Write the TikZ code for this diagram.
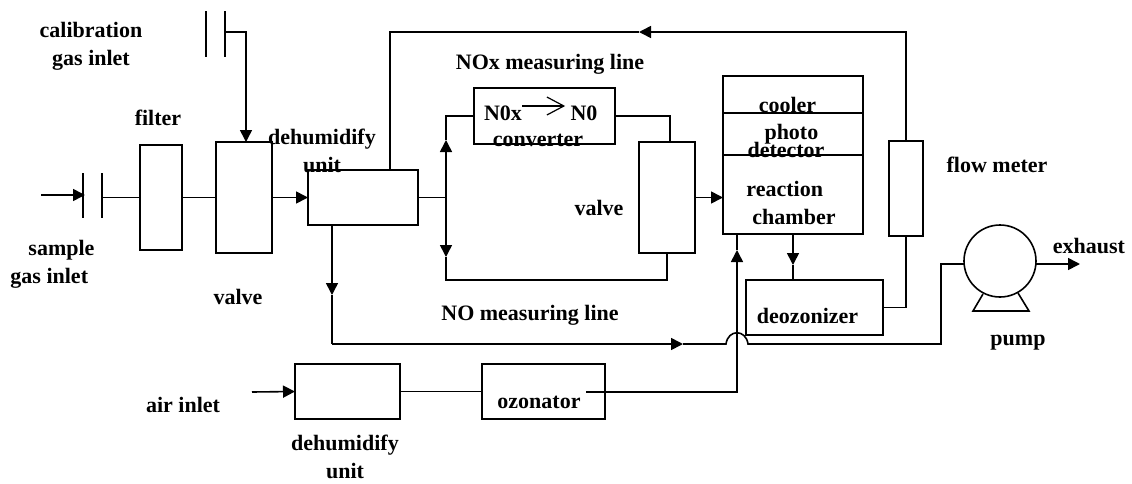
\documentclass[tikz,border=0pt]{standalone}
\usepackage{fontspec}
\setmainfont{Liberation Serif}
\usetikzlibrary{arrows.meta}
\tikzstyle{block} = [rectangle, outer sep=0pt, inner sep=0pt, draw=black, line width=0.8pt]
\tikzstyle{lab} = [inner sep=0pt, align=center, font=\fontsize{11}{14}\selectfont\bfseries]
\tikzstyle{wire} = [line width=0.8pt, black]
\tikzstyle{arrow} = [line width=0.8pt, black, -{Triangle[length=6pt,width=6pt]}]
\tikzstyle{barb} = [line width=0.6pt, black, -{Straight Barb[length=8.5pt,width=9pt]}]

\begin{document}
\begin{tikzpicture}[x=0.5pt, y=-0.5pt, node distance=50pt]
        \useasboundingbox (0,0) rectangle (1132,483);
        \node (filt) [block, minimum width=21pt, minimum height=52.5pt] at (161,197.5) {};
        \node (val1) [block, minimum width=27.75pt, minimum height=55.5pt, right of=filt, xshift=-8.5pt] {};
        \node (dry1) [block, minimum width=55pt, minimum height=27.5pt, right of=val1, xshift=+9.5pt] {};
        \node (conv) [block, minimum width=70.5pt, minimum height=28pt, right of=dry1, xshift=+40.75pt, yshift=+40.75pt] {};
        \node (val2) [block, minimum width=28pt, minimum height=55.5pt, below of=conv, xshift=+61.25pt, yshift=+9.25pt] {};
        \node (react) [block, minimum width=70pt, minimum height=39.5pt, right of=val2, xshift=+13pt, yshift=+1.5pt] {};
        \node (photo) [block, minimum width=70pt, minimum height=21pt, above of=react, yshift=-19.75pt] {};
        \node (cool) [block, minimum width=70pt, minimum height=18.5pt, above of=photo, yshift=-30.25pt] {};
        \node (flow) [block, minimum width=17pt, minimum height=47.5pt, right of=react, xshift=+6.5pt, yshift=+3pt] {};
        \node (deoz) [block, minimum width=68.5pt, minimum height=27.5pt, below of=react, xshift=+10.75pt, yshift=-6.5pt] {};
        \node (pump) [block, circle, minimum size=36pt, right of=flow, xshift=-3pt, yshift=-36.25pt] {};
        \node (dry2) [block, minimum width=52.5pt, minimum height=27.5pt, below of=dry1, xshift=-7.75pt, yshift=-47pt] {};
        \node (ozon) [block, minimum width=61.5pt, minimum height=27.5pt, right of=dry2, xshift=+48pt] {};

        \node (lcal) [lab, above of=filt, xshift=-35pt, yshift=+25.75pt] {calibration\\gas inlet};
        \node (lfil) [lab, above of=filt, xshift=-1.5pt, yshift=-10.25pt] {filter};
        \node (lsam) [lab, align=left, left of=filt, xshift=-4.25pt, yshift=-33.25pt] {\hspace*{9pt}sample\\gas inlet};
        \node (ldry1) [lab, above of=dry1, xshift=-20.5pt, yshift=-26.75pt] {dehumidify\\unit};
        \node (lval1) [lab, below of=val1, xshift=-3pt, yshift=+0.25pt] {valve};
        \node (lnox) [lab, above of=conv, xshift=+2.75pt, yshift=-24pt] {NOx measuring line};
        \node (lsrc) [lab, left of=conv, xshift=+29.25pt, yshift=+1.5pt] {N0x};
        \node (ldst) [lab, right of=conv, xshift=-30.25pt, yshift=+1.5pt] {N0};
        \node (lconv) [lab, below of=conv, xshift=-3.25pt, yshift=+38pt] {converter};
        \node (lval2) [lab, left of=val2, xshift=+16pt, yshift=-5.25pt] {valve};
        \node (lcool) [lab, below of=cool, xshift=-2.75pt, yshift=+44.75pt] {cooler};
        \node (lphoto) [lab, align=left, below of=photo, xshift=-3.5pt, yshift=+46.5pt] {\hspace*{8.5pt}photo\\[-5pt]detector};
        \node (lreact) [lab, align=left, below of=react, xshift=-1pt, yshift=+45.75pt] {reaction\\\hspace*{3pt}chamber};
        \node (ldeoz) [lab, below of=deoz, xshift=-3.5pt, yshift=+45.75pt] {deozonizer};
        \node (lflow) [lab, right of=flow, xshift=-4.5pt, yshift=+11.75pt] {flow meter};
        \node (lpump) [lab, below of=pump, xshift=+9pt, yshift=+9pt] {pump};
        \node (lexh) [lab, right of=pump, xshift=-5.5pt, yshift=+7.5pt] {exhaust};
        \node (lno) [lab, below of=val2, xshift=-68.5pt, yshift=-8.75pt] {NO measuring line};
        \node (lair) [lab, left of=dry2, xshift=-32.25pt, yshift=-6.75pt] {air inlet};
        \node (ldry2) [lab, below of=dry2, xshift=-1.25pt, yshift=+17.25pt] {dehumidify\\unit};
        \node (lozon) [lab, below of=ozon, xshift=-2.25pt, yshift=+44.75pt] {ozonator};

        \coordinate (cal1a) at (206,11);
        \coordinate (cal1b) at (206,57);
        \coordinate (cal2a) at (225,11);
        \coordinate (cal2b) at (225,57);
        \coordinate (calout) at (225,32);
        \coordinate (sam0) at (41,195);
        \coordinate (samtip) at (85,195);
        \coordinate (sam1a) at (83,173);
        \coordinate (sam1b) at (83,218);
        \coordinate (sam2a) at (102,173);
        \coordinate (sam2b) at (102,218);
        \coordinate (sam2out) at (102,197.5);
        \coordinate (toptip) at (639,32);
        \coordinate (fork) at (446,197.5);
        \coordinate (forkup) at (446,140);
        \coordinate (forkdn) at (446,257);
        \coordinate (forkend) at (446,280);
        \coordinate (deoztip) at (793,265);
        \coordinate (dntip) at (332,295);
        \coordinate (corner) at (332,344);
        \coordinate (notip) at (683,344);
        \coordinate (hop1) at (726,344);
        \coordinate (hop2) at (748,344);
        \coordinate (pumpcor) at (941,344);
        \coordinate (exhtip) at (1080,264);
        \coordinate (ozonout) at (586,392);
        \coordinate (reacttip) at (737,250);
        \coordinate (air0) at (252,392);
        \coordinate (base1) at (983,294);
        \coordinate (base2) at (973,311);
        \coordinate (base3) at (1029,311);
        \coordinate (base4) at (1018,293);

        \draw [wire] (cal1a) -- (cal1b);
        \draw [wire] (cal2a) -- (cal2b);
        \draw [arrow] (calout) -| ([xshift=1pt]val1.north);
        \draw [wire] (sam1a) -- (sam1b);
        \draw [wire] (sam2a) -- (sam2b);
        \draw [arrow] (sam0) -- (samtip);
        \draw [wire] (sam2out) -- (filt.west);
        \draw [wire] (filt.east) -- (val1.west);
        \draw [arrow] (val1.east) -- (dry1.west);
        \draw [arrow] (flow.north) |- (toptip);
        \draw [wire] (toptip) -| ([xshift=13.5pt]dry1.north);
        \draw [wire] (dry1.east) -- (fork);
        \draw [arrow] (fork) -- (forkup);
        \draw [wire] (forkup) |- (conv.west);
        \draw [arrow] (fork) -- (forkdn);
        \draw [wire] (forkdn) -- (forkend) -| (val2.south);
        \draw [wire] (conv.east) -| ([xshift=1.5pt]val2.north);
        \draw [arrow] (val2.east) -- (val2.east -| react.west);
        \draw [barb] ([yshift=3.5pt]lsrc.east) -- ([xshift=-2.5pt,yshift=3.5pt]ldst.west);
        \draw [arrow] (react.south) -- (deoztip);
        \draw [wire] (deoztip) -- (deoztip |- deoz.north);
        \draw [wire] (deoz.east) -| (flow.south);
        \draw [arrow] ([xshift=-15.5pt]dry1.south) -- (dntip);
        \draw [wire] (dntip) -- (corner);
        \draw [arrow] (corner) -- (notip);
        \draw [wire] (notip) -- (hop1) .. controls (728,329) and (746,329) .. (hop2) -- (pumpcor) |- ([yshift=-1.5pt]pump.west);
        \draw [arrow] ([yshift=-1.5pt]pump.east) -- (exhtip);
        \draw [wire] (base1) -- (base2) -- (base3) -- (base4);
        \draw [arrow] (air0) -- (dry2.west);
        \draw [wire] (dry2.east) -- (ozon.west);
        \draw [arrow] (ozonout) -| (reacttip);
        \draw [wire] (reacttip) -- (reacttip |- react.south);
\end{tikzpicture}
\end{document}
